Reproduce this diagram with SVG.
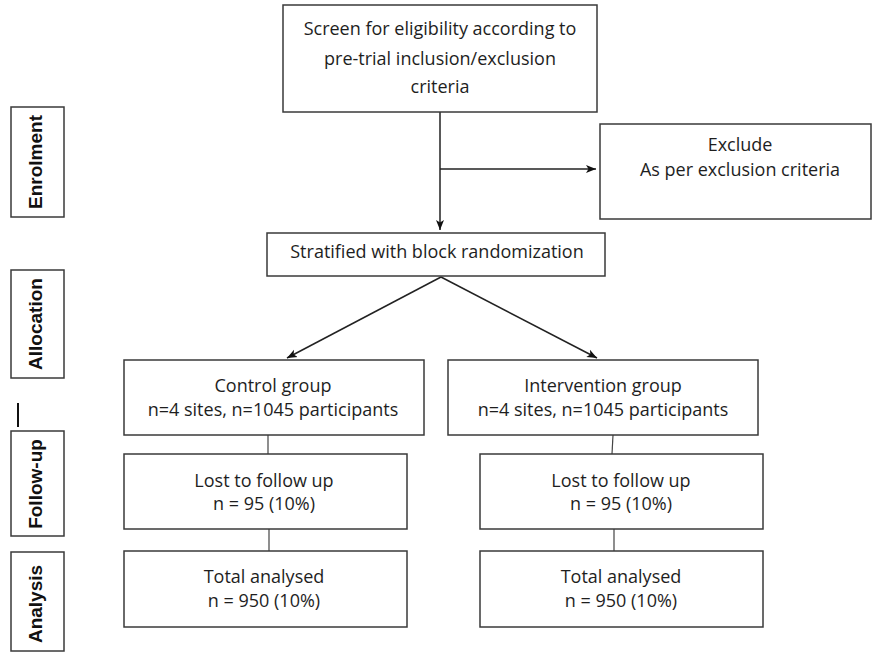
<svg xmlns="http://www.w3.org/2000/svg" width="873" height="652" viewBox="0 0 873 652">
<defs>
<style>
.box{fill:#fff;stroke:#3a3a3a;stroke-width:1.5}
.t{font-family:"Open Sans","Noto Sans",sans-serif;font-size:18px;fill:#1e1e1e;text-anchor:middle}
.side{font-family:"Liberation Sans",Arial,sans-serif;font-size:19px;font-weight:bold;fill:#111;text-anchor:middle}
.ln{stroke:#222;stroke-width:1.5;fill:none}
.ln2{stroke:#444;stroke-width:1.2;fill:none}
</style>
<marker id="ah" markerWidth="10" markerHeight="10" viewBox="0 0 10 10" refX="10" refY="5" orient="auto" markerUnits="userSpaceOnUse">
<path d="M0,1 L10,5 L0,9 L2.5,5 Z" fill="#111"/>
</marker>
</defs>
<rect width="873" height="652" fill="#fff"/>

<g id="side-enrolment"><rect class="box" x="11" y="107" width="53" height="110"/><text class="side" transform="translate(42,162) rotate(-90)">Enrolment</text></g>
<g id="side-allocation"><rect class="box" x="11" y="270" width="53" height="108"/><text class="side" transform="translate(42,324) rotate(-90)">Allocation</text></g>
<g id="side-dash"><line x1="18" y1="403" x2="18" y2="427" stroke="#111" stroke-width="2"/></g>
<g id="side-followup"><rect class="box" x="11" y="431" width="53" height="105"/><text class="side" transform="translate(42,484) rotate(-90)">Follow-up</text></g>
<g id="side-analysis"><rect class="box" x="11" y="552" width="53" height="99"/><text class="side" transform="translate(42,604) rotate(-90)">Analysis</text></g>

<g id="connectors">
<line class="ln" x1="440" y1="112" x2="440" y2="230" marker-end="url(#ah)"/>
<line class="ln" x1="440" y1="169" x2="596" y2="169" marker-end="url(#ah)"/>
<line class="ln" x1="441" y1="277" x2="287" y2="358" marker-end="url(#ah)"/>
<line class="ln" x1="441" y1="277" x2="597" y2="358" marker-end="url(#ah)"/>
<line class="ln2" x1="268" y1="435" x2="268" y2="454"/>
<line class="ln2" x1="269" y1="529" x2="269" y2="551"/>
<line class="ln2" x1="613" y1="435" x2="612" y2="454"/>
<line class="ln2" x1="614" y1="529" x2="614" y2="551"/>
</g>

<g id="screen"><rect class="box" x="283" y="5" width="314" height="107"/>
<text class="t" x="440" y="35">Screen for eligibility according to</text>
<text class="t" x="440" y="65">pre-trial inclusion/exclusion</text>
<text class="t" x="440" y="93">criteria</text></g>

<g id="exclude"><rect class="box" x="600" y="124" width="271" height="95"/>
<text class="t" x="740" y="151">Exclude</text>
<text class="t" x="740" y="176">As per exclusion criteria</text></g>

<g id="stratified"><rect class="box" x="267" y="233" width="338" height="43"/>
<text class="t" x="437" y="258">Stratified with block randomization</text></g>

<g id="control"><rect class="box" x="124" y="360" width="300" height="75"/>
<text class="t" x="273" y="392">Control group</text>
<text class="t" x="273" y="416">n=4 sites, n=1045 participants</text></g>

<g id="intervention"><rect class="box" x="448" y="360" width="310" height="75"/>
<text class="t" x="603" y="392">Intervention group</text>
<text class="t" x="603" y="416">n=4 sites, n=1045 participants</text></g>

<g id="lost-control"><rect class="box" x="124" y="454" width="283" height="75"/>
<text class="t" x="264" y="487">Lost to follow up</text>
<text class="t" x="264" y="510">n = 95 (10%)</text></g>

<g id="lost-intervention"><rect class="box" x="480" y="454" width="283" height="75"/>
<text class="t" x="621" y="487">Lost to follow up</text>
<text class="t" x="621" y="510">n = 95 (10%)</text></g>

<g id="total-control"><rect class="box" x="124" y="551" width="283" height="76"/>
<text class="t" x="264" y="583">Total analysed</text>
<text class="t" x="264" y="607">n = 950 (10%)</text></g>

<g id="total-intervention"><rect class="box" x="480" y="551" width="283" height="76"/>
<text class="t" x="621" y="583">Total analysed</text>
<text class="t" x="621" y="607">n = 950 (10%)</text></g>
</svg>
